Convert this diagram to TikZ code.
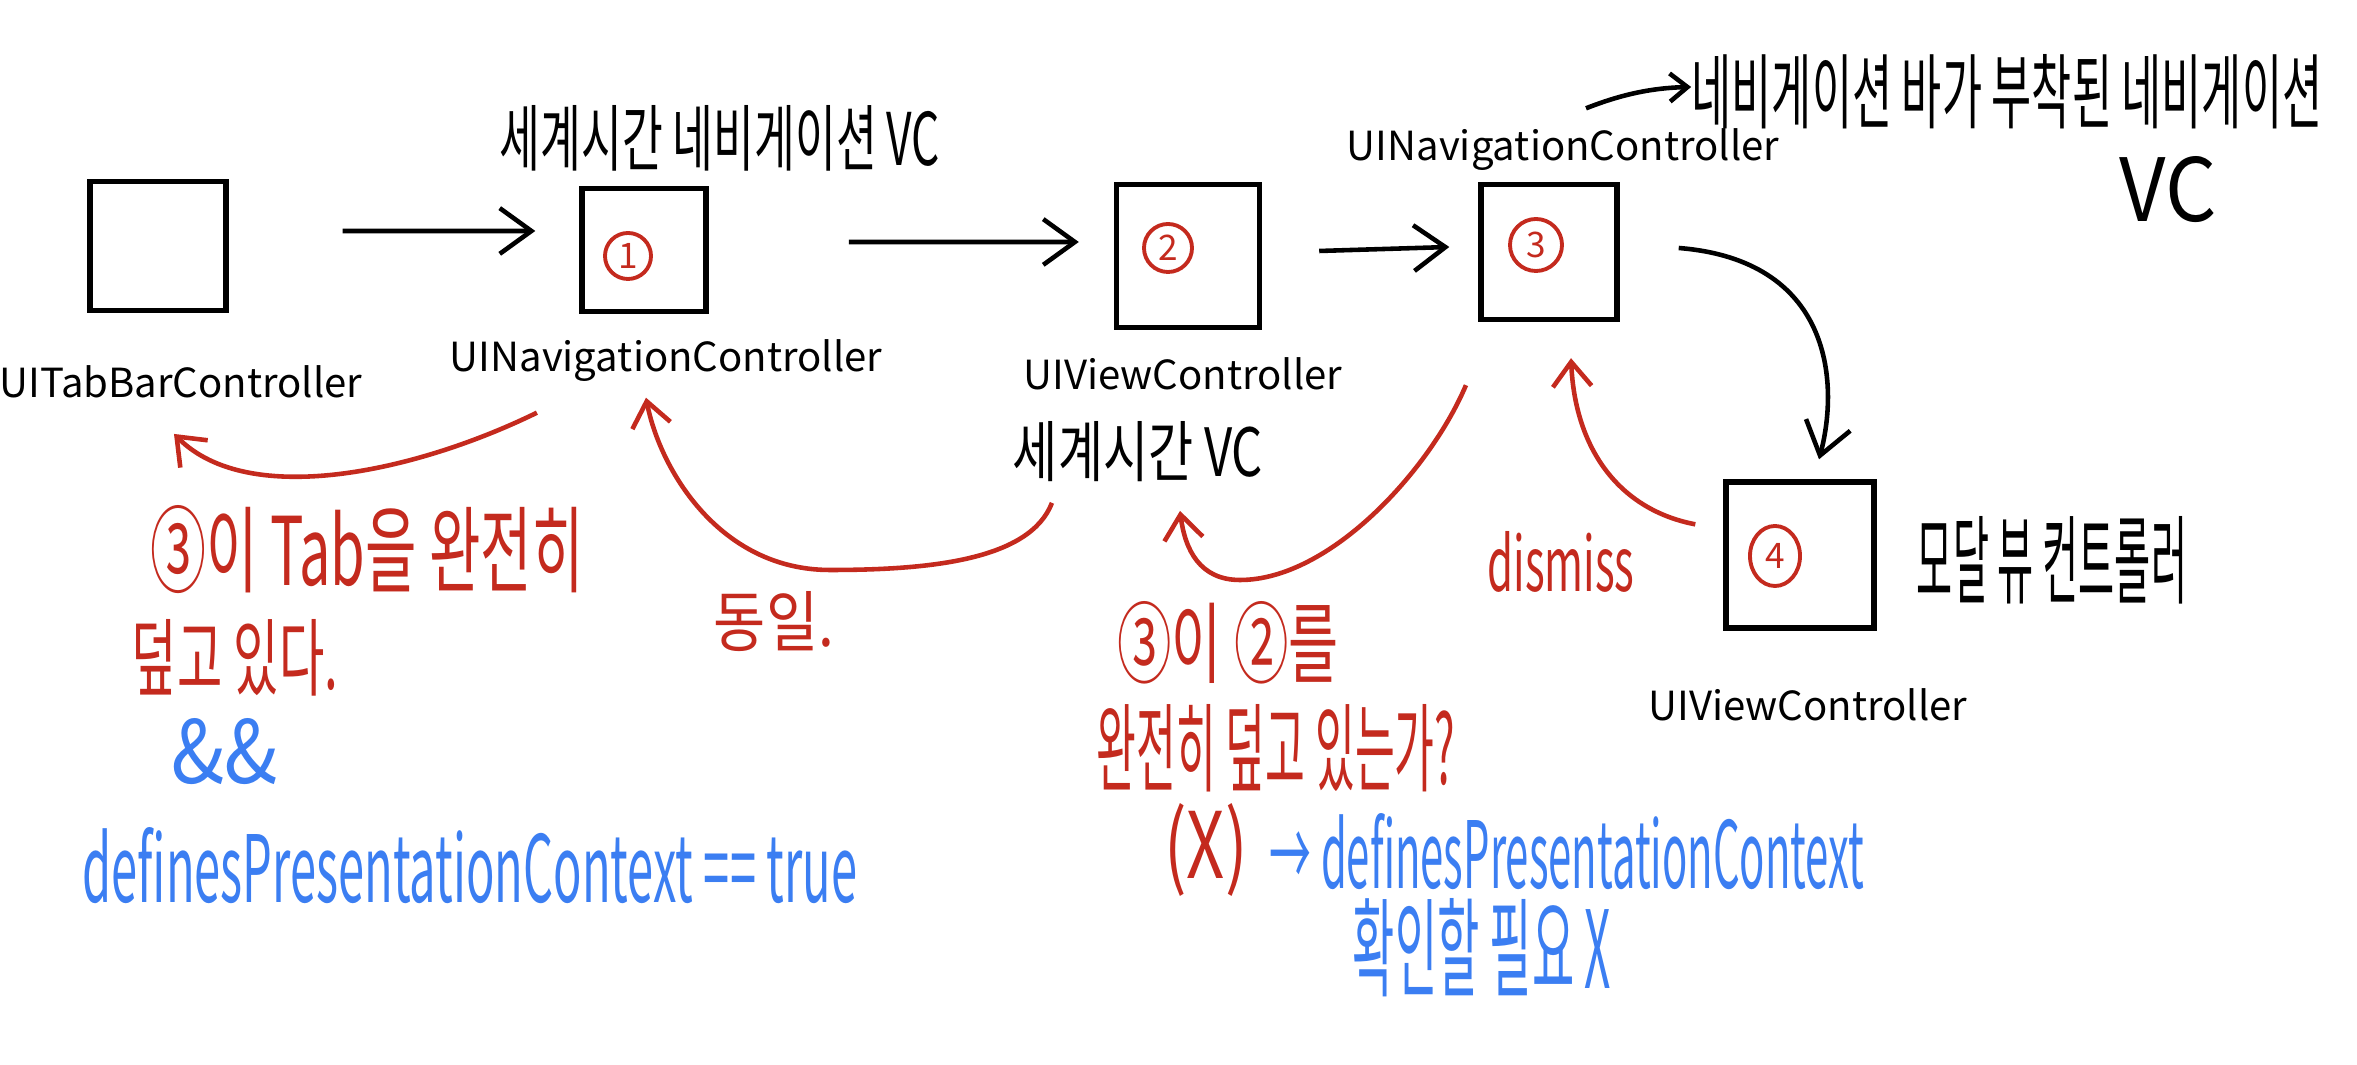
\documentclass[tikz,border=0pt]{standalone}
\usepackage{fontspec}
\setmainfont{Noto Sans CJK KR}
\usetikzlibrary{arrows.meta,shapes.geometric}
\definecolor{pred}{HTML}{C42A1E}
\definecolor{pblue}{HTML}{3B7EF2}
\newcommand{\hw}[3]{\resizebox{#1cm}{#2cm}{#3}}
\begin{document}
\begin{tikzpicture}[x=0.01cm,y=-0.01cm,
  box/.style={draw, line width=1.5pt, inner sep=0pt},
  lbl/.style={font=\fontsize{11.4}{13}\selectfont, inner sep=0pt},
  hand/.style={inner sep=0pt},
  num/.style={draw=pred, text=pred, circle, line width=1.1pt, inner sep=0pt, font=\fontsize{10}{12}\selectfont},
  arr/.style={line width=1.3pt, -{Straight Barb[length=9pt,width=13pt,line width=1.3pt]}},
  rarr/.style={draw=pred, line width=1.3pt, -{Straight Barb[length=7pt,width=11pt,line width=1.3pt]}}]
\useasboundingbox[fill=white] (0,0) rectangle (2357,1065);

% boxes
\node[box, minimum width=1.36cm, minimum height=1.29cm] (b0) at (158,246) {};
\node[box, minimum width=1.24cm, minimum height=1.23cm] (b1) at (644,250) {};
\node[box, minimum width=1.43cm, minimum height=1.43cm] (b2) at (1188,256) {};
\node[box, minimum width=1.36cm, minimum height=1.35cm] (b3) at (1549,252) {};
\node[box, minimum width=1.48cm, minimum height=1.46cm] (b4) at (1800,555) {};

% circled numbers
\node[num, minimum size=0.46cm] (n1) at (628,256) {1};
\node[num, minimum size=0.48cm] (n2) at (1168,248) {2};
\node[num, minimum size=0.52cm] (n3) at (1536,245) {3};
\node[num, ellipse, minimum width=0.5cm, minimum height=0.6cm] (n4) at (1775,556) {4};

% labels
\node[lbl] (l0) at (181,382) {UITabBarController};
\node[lbl] (l1) at (666,361) {UINavigationController};
\node[lbl] (l2) at (1183,374) {UIViewController};
\node[lbl] (l3) at (1563,150) {UINavigationController};
\node[lbl] (l4) at (1808,705) {UIViewController};

% handwritten black
\node[hand] (t1) at (720,138) {\hw{4.4}{0.6}{세계시간 네비게이션 VC}};
\node[hand] (t2) at (2007,92) {\hw{6.3}{0.68}{네비게이션 바가 부착된 네비게이션}};
\node[hand] (t3) at (2168,190) {\hw{0.97}{0.65}{VC}};
\node[hand] (t4) at (1138,452) {\hw{2.5}{0.55}{세계시간 VC}};
\node[hand] (t5) at (2052,560) {\hw{2.7}{0.8}{모달 뷰 컨트롤러}};

% handwritten red
\node[hand, text=pred] (r1) at (367,550) {\hw{4.33}{0.8}{③이 Tab을 완전히}};
\node[hand, text=pred] (r2) at (235,658) {\hw{2.06}{0.7}{덮고 있다.}};
\node[hand, text=pred] (r3) at (774,622) {\hw{1.2}{0.55}{동일.}};
\node[hand, text=pred] (r4) at (1228,643) {\hw{2.21}{0.75}{③이 ②를}};
\node[hand, text=pred] (r5) at (1276,748) {\hw{3.58}{0.8}{완전히 덮고 있는가?}};
\node[hand, text=pred] (r6) at (1206,850) {\hw{0.83}{0.75}{(X)}};
\node[hand, text=pred] (r7) at (1561,562) {\hw{1.47}{0.6}{dismiss}};

% handwritten blue
\node[hand, text=pblue] (u1) at (225,752) {\hw{1.06}{0.65}{\&\&}};
\node[hand, text=pblue] (u2) at (470,866) {\hw{7.74}{0.75}{definesPresentationContext == true}};
\node[hand, text=pblue] (u3) at (1567,852) {\hw{5.94}{0.75}{→ definesPresentationContext}};
\node[hand, text=pblue] (u4) at (1482,948) {\hw{2.58}{0.9}{확인할 필요 X}};

% black arrows
\draw[arr] ([xshift=1.14cm,yshift=0.15cm]b0.east) -- ([xshift=-0.44cm,yshift=0.19cm]b1.west);
\draw[arr] ([xshift=1.4cm,yshift=0.08cm]b1.east) -- ([xshift=-0.35cm,yshift=0.14cm]b2.west);
\draw[arr] ([xshift=0.57cm,yshift=0.05cm]b2.east) -- ([xshift=-0.29cm,yshift=0.05cm]b3.west);
\draw[arr] ([xshift=0.59cm,yshift=0.04cm]b3.east) .. controls (1830,260) and (1840,380) .. ([xshift=0.19cm,yshift=0.2cm]b4.north);
\draw[line width=1.3pt, -{Straight Barb[length=5pt,width=8pt,line width=1.3pt]}] ([xshift=0.23cm,yshift=0.2cm]l3.north) .. controls (1620,95) and (1650,88) .. ([yshift=0.05cm]t2.west);

% red arrows
\draw[rarr] ([xshift=-1.29cm,yshift=-0.3cm]l1.south) .. controls (420,470) and (250,510) .. ([xshift=-0.07cm,yshift=-0.35cm]l0.south);
\draw[rarr] ([xshift=-0.86cm,yshift=-0.2cm]t4.south) .. controls (1030,560) and (930,570) .. (830,570) .. controls (720,570) and (660,470) .. ([xshift=-0.2cm,yshift=-0.15cm]l1.south);
\draw[rarr] ([xshift=-0.83cm,yshift=-0.63cm]b3.south) .. controls (1430,470) and (1330,580) .. (1240,580) .. controls (1200,580) and (1185,550) .. ([xshift=0.42cm,yshift=-0.28cm]t4.south);
\draw[rarr] ([xshift=-0.28cm,yshift=-0.45cm]b4.north west) .. controls (1620,510) and (1575,450) .. ([xshift=0.22cm,yshift=-0.36cm]b3.south);
\end{tikzpicture}
\end{document}
